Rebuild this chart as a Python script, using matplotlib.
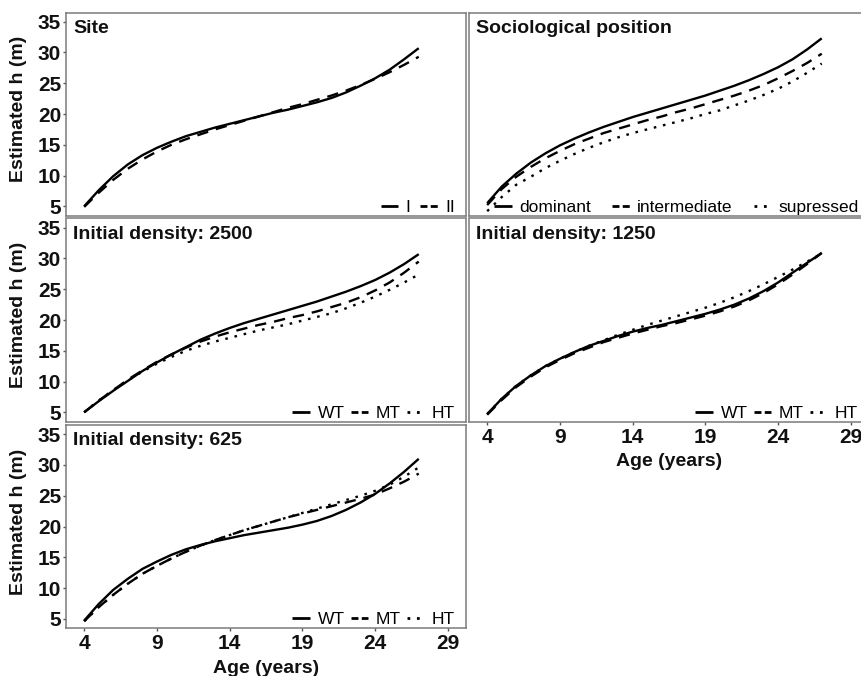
import matplotlib.pyplot as plt
from matplotlib.lines import Line2D

plt.rcParams['font.family'] = ['Liberation Sans', 'DejaVu Sans']

# ages (years)
age = list(range(4, 28))

# Site
site_I = [5.0, 7.6, 9.9, 11.8, 13.3, 14.5, 15.5, 16.4, 17.1, 17.8, 18.4, 19.0,
          19.6, 20.2, 20.7, 21.3, 21.9, 22.6, 23.5, 24.6, 25.8, 27.2, 28.9, 30.7]
site_II = [4.9, 7.2, 9.3, 11.1, 12.6, 13.9, 15.0, 15.9, 16.7, 17.5, 18.2, 18.9,
           19.6, 20.3, 21.0, 21.6, 22.3, 23.0, 23.8, 24.7, 25.7, 26.8, 28.0, 29.3]

# Sociological position
dominant = [5.5, 8.2, 10.3, 12.1, 13.6, 14.9, 16.0, 17.0, 17.9, 18.7, 19.5, 20.2,
            20.9, 21.6, 22.3, 23.0, 23.8, 24.6, 25.5, 26.5, 27.6, 28.9, 30.5, 32.3]
intermediate = [5.2, 7.8, 9.8, 11.4, 12.8, 14.0, 15.1, 16.0, 16.9, 17.6, 18.3, 19.0,
                19.6, 20.3, 20.9, 21.6, 22.3, 23.0, 23.8, 24.7, 25.8, 27.0, 28.3, 29.8]
supressed = [4.2, 6.5, 8.5, 9.8, 11.2, 12.4, 13.5, 14.5, 15.4, 16.2, 16.9, 17.5,
             18.1, 18.7, 19.3, 20.0, 20.6, 21.4, 22.2, 23.1, 24.1, 25.3, 26.7, 28.2]

# Initial density 2500
d2500_WT = [5.0, 6.8, 8.5, 10.1, 11.7, 13.1, 14.4, 15.6, 16.8, 17.8, 18.7, 19.5,
            20.2, 20.9, 21.6, 22.3, 23.0, 23.8, 24.6, 25.5, 26.5, 27.7, 29.1, 30.7]
d2500_MT = [5.0, 6.9, 8.6, 10.3, 11.8, 13.2, 14.4, 15.5, 16.5, 17.3, 18.0, 18.6,
            19.2, 19.7, 20.3, 20.8, 21.4, 22.1, 22.8, 23.7, 24.8, 26.1, 27.7, 29.5]
d2500_HT = [5.0, 6.9, 8.6, 10.2, 11.6, 12.9, 14.0, 15.0, 15.8, 16.5, 17.1, 17.7,
            18.3, 18.8, 19.3, 19.9, 20.5, 21.1, 21.9, 22.8, 23.8, 24.9, 26.1, 27.4]

# Initial density 1250
d1250_WT = [4.7, 7.2, 9.3, 11.0, 12.5, 13.7, 14.8, 15.8, 16.6, 17.4, 18.1, 18.7,
            19.2, 19.8, 20.4, 21.0, 21.7, 22.5, 23.5, 24.7, 26.1, 27.7, 29.3, 30.9]
d1250_MT = [4.6, 7.0, 9.1, 10.8, 12.3, 13.5, 14.6, 15.5, 16.4, 17.1, 17.8, 18.4,
            19.0, 19.5, 20.1, 20.7, 21.4, 22.2, 23.2, 24.4, 25.8, 27.4, 29.1, 30.9]
d1250_HT = [4.7, 7.2, 9.3, 11.0, 12.5, 13.7, 14.8, 15.8, 16.7, 17.6, 18.4, 19.2,
            19.9, 20.6, 21.3, 22.0, 22.8, 23.7, 24.7, 25.8, 27.0, 28.2, 29.5, 30.8]

# Initial density 625
d625_WT = [4.7, 7.4, 9.7, 11.5, 13.1, 14.3, 15.4, 16.3, 17.0, 17.6, 18.1, 18.6,
           19.0, 19.4, 19.8, 20.3, 20.9, 21.7, 22.7, 23.9, 25.3, 27.0, 28.9, 31.0]
d625_MT = [4.6, 6.9, 8.9, 10.7, 12.3, 13.6, 14.8, 15.9, 16.9, 17.8, 18.6, 19.4,
           20.1, 20.8, 21.5, 22.1, 22.7, 23.3, 23.9, 24.5, 25.2, 26.2, 27.3, 28.6]
d625_HT = [4.6, 6.9, 8.9, 10.7, 12.3, 13.6, 14.8, 15.9, 16.9, 17.8, 18.6, 19.4,
           20.1, 20.8, 21.5, 22.2, 22.9, 23.6, 24.3, 25.0, 25.8, 26.8, 28.1, 29.6]

x_ticks = [4, 9, 14, 19, 24, 29]
y_ticks = [5, 10, 15, 20, 25, 30, 35]

W, H = 862, 676
LW = 1.7
STYLES = [dict(ls='-'), dict(ls=(0, (4.8, 3.4))), dict(ls=(0, (1.1, 2.9)))]
KEY_STYLES = [dict(ls='-'), dict(ls=(0, (2.5, 1.2))), dict(ls=(0, (1, 2.4)))]

fig = plt.figure(figsize=(W / 100, H / 100), dpi=100)


def panel(left, top, right, bottom):
    return fig.add_axes([left / W, 1 - bottom / H, (right - left) / W, (bottom - top) / H])


def draw(ax, title, series, labels, show_x, show_y, colspace=0.35, anchor=10):
    for ys, st in zip(series, STYLES):
        ax.plot(age, ys, color='black', lw=LW, solid_capstyle='butt',
                dash_capstyle='butt', **st)
    ax.set_xlim(2.75, 30.25)
    ax.set_ylim(3.5, 36.5)
    ax.set_xticks(x_ticks)
    ax.set_yticks(y_ticks)
    for sp in ax.spines.values():
        sp.set_color('#7a7a7a')
        sp.set_linewidth(1.1)
    ax.tick_params(axis='both', length=2.5, width=1, color='#555555',
                   labelsize=15, labelcolor='#111111')
    ax.tick_params(axis='y', pad=1)
    ax.tick_params(axis='x', pad=2)
    for lab in ax.get_xticklabels() + ax.get_yticklabels():
        lab.set_fontweight('bold')
    if not show_x:
        ax.tick_params(axis='x', bottom=False, labelbottom=False)
    if not show_y:
        ax.tick_params(axis='y', left=False, labelleft=False)
    ax.text(0.018, 0.965, title, transform=ax.transAxes, ha='left', va='top',
            fontsize=14, fontweight='bold', color='#111111')
    handles = [Line2D([], [], color='black', lw=2.0, dash_capstyle='butt',
                      solid_capstyle='butt', **st)
               for st in KEY_STYLES[:len(labels)]]
    ax.legend(handles, labels, loc='lower right', ncol=len(labels),
              bbox_to_anchor=(1 - anchor / 400, 0.0), frameon=False,
              fontsize=12.5, handlelength=1.0, handletextpad=0.45,
              columnspacing=colspace, borderpad=0.05, borderaxespad=0.0)


def ylabel(top, bottom):
    fig.text(19 / W, 1 - ((top + bottom) / 2 - 5) / H, 'Estimated h (m)',
             rotation=90, ha='center', va='center', fontsize=14,
             fontweight='bold', color='#111111')


def xlabel(left, right, bottom):
    fig.text((left + right) / 2 / W, 1 - (bottom + 45) / H, 'Age (years)',
             ha='center', va='baseline', fontsize=14, fontweight='bold',
             color='#111111')


L0, L1 = 66, 466
R0, R1 = 469, 869
rows = [(12.5, 215.5), (218.5, 421.5), (425, 628)]

ax1 = panel(L0, rows[0][0], L1, rows[0][1])
draw(ax1, 'Site', [site_I, site_II], ['I', 'II'], False, True, colspace=0.55)

ax2 = panel(R0, rows[0][0], R1, rows[0][1])
draw(ax2, 'Sociological position', [dominant, intermediate, supressed],
     ['dominant', 'intermediate', 'supressed'], False, False, colspace=1.2,
     anchor=9)

ax3 = panel(L0, rows[1][0], L1, rows[1][1])
draw(ax3, 'Initial density: 2500', [d2500_WT, d2500_MT, d2500_HT],
     ['WT', 'MT', 'HT'], False, True)

ax4 = panel(R0, rows[1][0], R1, rows[1][1])
draw(ax4, 'Initial density: 1250', [d1250_WT, d1250_MT, d1250_HT],
     ['WT', 'MT', 'HT'], True, False)

ax5 = panel(L0, rows[2][0], L1, rows[2][1])
draw(ax5, 'Initial density: 625', [d625_WT, d625_MT, d625_HT],
     ['WT', 'MT', 'HT'], True, True)

for top, bottom in rows:
    ylabel(top, bottom)
xlabel(R0, R1, rows[1][1])
xlabel(L0, L1, rows[2][1])

fig.savefig('out.png', dpi=100, facecolor='white')
